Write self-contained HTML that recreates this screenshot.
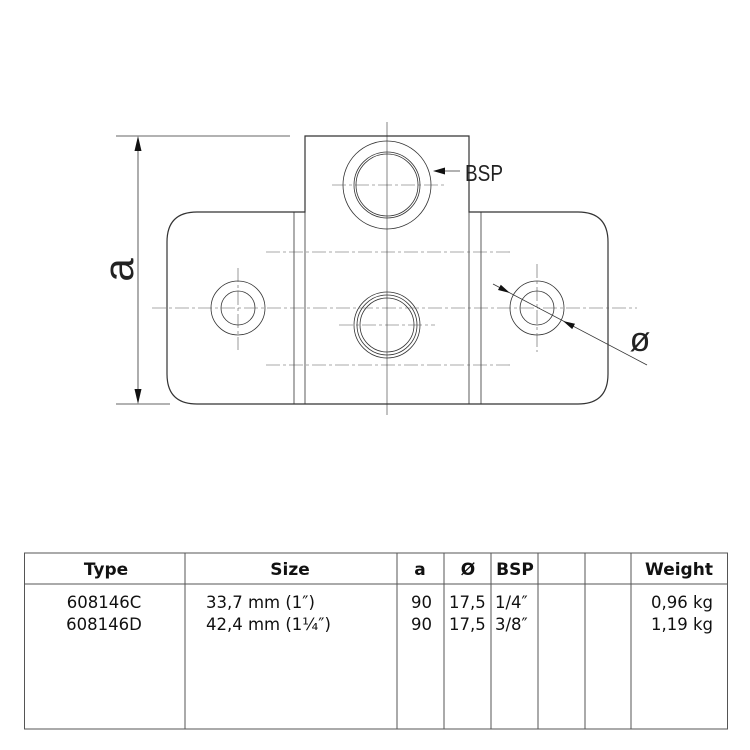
<!DOCTYPE html>
<html><head><style>body{margin:0;background:#fff}svg{display:block}</style></head><body>
<svg width="750" height="750" viewBox="0 0 750 750" xmlns="http://www.w3.org/2000/svg" font-family="Liberation Sans, sans-serif">
<g fill="none" stroke="#333" stroke-width="1.2">
<path d="M305,212 V136 H469 V212 H578 Q608,212 608,242 V374 Q608,404 578,404 H197 Q167,404 167,374 V242 Q167,212 197,212 Z"/>
<line x1="294" y1="212" x2="294" y2="404" stroke-width="0.8"/><line x1="305" y1="212" x2="305" y2="404" stroke-width="0.8"/>
<line x1="469" y1="212" x2="469" y2="404" stroke-width="0.8"/><line x1="481" y1="212" x2="481" y2="404" stroke-width="0.8"/>
<g stroke-width="0.8">
<circle cx="387" cy="185" r="44"/><circle cx="387" cy="185" r="33"/><circle cx="387" cy="185" r="31"/>
<circle cx="387" cy="325" r="33"/><circle cx="387" cy="325" r="30"/><circle cx="387" cy="325" r="27"/>
<circle cx="238" cy="308" r="27"/><circle cx="238" cy="308" r="17"/>
<circle cx="537" cy="308" r="27"/><circle cx="537" cy="308" r="17"/>
</g>
<g stroke-width="0.6" stroke="#555" stroke-dasharray="14,3,3,3">
<line x1="152" y1="308" x2="637" y2="308"/>
<line x1="266" y1="252" x2="512" y2="252"/>
<line x1="266" y1="365" x2="512" y2="365"/>
<line x1="332" y1="185" x2="444" y2="185"/>
<line x1="339" y1="325" x2="435" y2="325"/>
<line x1="238" y1="268" x2="238" y2="350"/>
<line x1="537" y1="264" x2="537" y2="352"/>
</g>
<line x1="387" y1="122" x2="387" y2="415" stroke-width="0.6"/>
<g stroke-width="0.8">
<line x1="116" y1="136" x2="290" y2="136"/><line x1="116" y1="404" x2="170" y2="404"/>
<line x1="138" y1="140" x2="138" y2="400"/>
<line x1="493" y1="284" x2="647" y2="365"/>
<line x1="436" y1="171" x2="460" y2="171"/>
</g>
</g>
<g fill="#111">
<path d="M138,136 l-3.5,15 h7 z"/><path d="M138,404 l-3.5,-15 h7 z"/>
<path d="M433,171 l12,-3.5 v7 z"/>
<path d="M510,293 L498,290 L500.8,284.7 z"/>
<path d="M563,321 L572.2,329.1 L575,323.7 z"/>
</g>
<text x="465" y="181" font-size="23" fill="#222" textLength="38" lengthAdjust="spacingAndGlyphs">BSP</text>
<text x="0" y="0" font-size="42" fill="#222" transform="translate(133,270) rotate(-90)" text-anchor="middle">a</text>
<text x="640" y="351" font-size="34" fill="#222" text-anchor="middle">ø</text>
<g fill="none" stroke="#555" stroke-width="1">
<rect x="24.5" y="553" width="703" height="176"/>
<line x1="24.5" y1="584" x2="727.5" y2="584"/>
<line x1="185" y1="553" x2="185" y2="729"/><line x1="397" y1="553" x2="397" y2="729"/>
<line x1="444" y1="553" x2="444" y2="729"/><line x1="491" y1="553" x2="491" y2="729"/>
<line x1="538" y1="553" x2="538" y2="729"/><line x1="585" y1="553" x2="585" y2="729"/>
<line x1="631" y1="553" x2="631" y2="729"/>
</g>
<g font-family="DejaVu Sans, sans-serif" fill="#111">
<g font-size="17" font-weight="bold">
<text x="106" y="575" text-anchor="middle">Type</text>
<text x="290" y="575" text-anchor="middle">Size</text>
<text x="420" y="575" text-anchor="middle">a</text>
<text x="468" y="575" text-anchor="middle">Ø</text>
<text x="515" y="575" text-anchor="middle">BSP</text>
<text x="679" y="575" text-anchor="middle">Weight</text>
</g>
<g font-size="16.5">
<text x="104" y="608" text-anchor="middle">608146C</text>
<text x="104" y="630" text-anchor="middle">608146D</text>
<text x="206" y="608">33,7 mm (1″)</text>
<text x="206" y="630">42,4 mm (1¼″)</text>
<text x="411" y="608">90</text><text x="411" y="630">90</text>
<text x="449" y="608">17,5</text><text x="449" y="630">17,5</text>
<text x="495" y="608">1/4″</text><text x="495" y="630">3/8″</text>
<text x="713" y="608" text-anchor="end">0,96 kg</text>
<text x="713" y="630" text-anchor="end">1,19 kg</text>
</g>
</g>
</svg>
</body></html>
